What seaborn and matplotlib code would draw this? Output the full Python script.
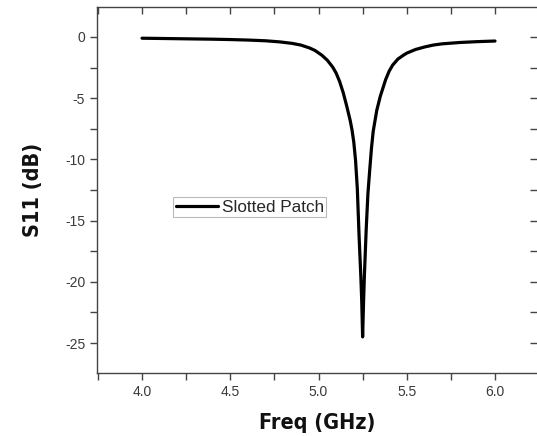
import matplotlib
matplotlib.use('Agg')
import matplotlib.pyplot as plt
from matplotlib.ticker import MultipleLocator, FormatStrFormatter
import pandas as pd
import seaborn as sns

# values
freq_ghz = [4.00, 4.10, 4.20, 4.30, 4.40, 4.50, 4.60, 4.70, 4.78, 4.85,
            4.90, 4.95, 4.98, 5.02, 5.05, 5.08, 5.10, 5.12, 5.14, 5.16,
            5.18, 5.19, 5.20, 5.21, 5.22, 5.23, 5.24, 5.245, 5.25, 5.255,
            5.26, 5.27, 5.28, 5.29, 5.30, 5.31, 5.33, 5.35, 5.38, 5.40,
            5.42, 5.45, 5.48, 5.50, 5.55, 5.60, 5.65, 5.70, 5.80, 5.90, 6.00]
s11_db = [-0.10, -0.12, -0.14, -0.16, -0.18, -0.21, -0.25, -0.31, -0.40, -0.52,
          -0.66, -0.90, -1.10, -1.50, -1.90, -2.45, -2.95, -3.65, -4.55, -5.65,
          -6.85, -7.60, -8.60, -10.1, -12.4, -16.3, -19.6, -21.6, -24.5, -21.8,
          -19.5, -15.8, -12.8, -10.9, -9.1, -7.7, -6.0, -4.85, -3.5, -2.8,
          -2.3, -1.8, -1.5, -1.32, -1.02, -0.82, -0.66, -0.56, -0.45, -0.38, -0.33]
series_name = 'Slotted Patch'

df = pd.DataFrame({'freq': freq_ghz, 's11': s11_db})

sns.set_style('ticks')
plt.rcParams['font.family'] = ['Liberation Sans', 'DejaVu Sans']

fig = plt.figure(figsize=(5.37, 4.36), dpi=100)
ax = fig.add_axes([97 / 537, 63 / 436, 440 / 537, 366 / 436])

sns.lineplot(data=df, x='freq', y='s11', color='black', linewidth=2.3,
             label=series_name, ax=ax)

ax.set_xlim(3.745, 6.238)
ax.set_ylim(-27.45, 2.45)
ax.xaxis.set_major_locator(MultipleLocator(0.5))
ax.xaxis.set_minor_locator(MultipleLocator(0.25))
ax.yaxis.set_major_locator(MultipleLocator(5))
ax.yaxis.set_minor_locator(MultipleLocator(2.5))
ax.xaxis.set_major_formatter(FormatStrFormatter('%.1f'))
ax.yaxis.set_major_formatter(FormatStrFormatter('%d'))

ax.tick_params(which='both', direction='out', length=5, width=1,
               color='#444444', labelcolor='#3a3a3a', labelsize=10,
               top=True, right=True)
for sp in ax.spines.values():
    sp.set_color('#444444')
    sp.set_linewidth(1)
ax.spines['right'].set_visible(False)

# top/right ticks point inwards
for t in ax.xaxis.get_major_ticks() + ax.xaxis.get_minor_ticks():
    t.tick2line.set_marker(3)
for t in ax.yaxis.get_major_ticks() + ax.yaxis.get_minor_ticks():
    t.tick2line.set_marker(0)

lab_font = dict(family=['DejaVu Sans'], stretch='condensed',
                weight='bold', size=15.5, color='#111111')
ax.set_xlabel('Freq (GHz)', labelpad=10, **lab_font)
ax.set_ylabel('S11 (dB)', labelpad=16, **lab_font)

leg = ax.legend(loc='upper left', bbox_to_anchor=(0.173, 0.481),
                borderaxespad=0, fontsize=12.3, handlelength=2.45,
                handletextpad=0.25, borderpad=0.15, fancybox=False,
                framealpha=1, edgecolor='#bbbbbb')
leg.get_frame().set_linewidth(0.8)

fig.savefig('out.png', dpi=100)
